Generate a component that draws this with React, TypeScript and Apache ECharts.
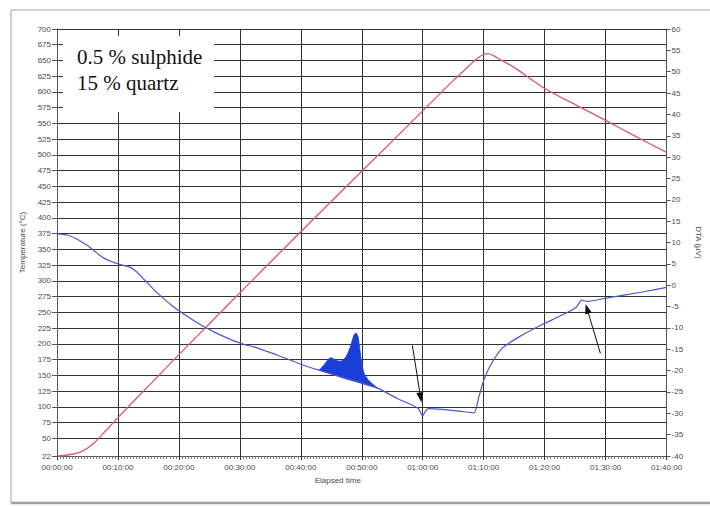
import { useEffect, useRef } from 'react';
import * as echarts from 'echarts';

// Elapsed time is in minutes; labels are shown as hh:mm:ss.
const TIME_MAX = 100;

// Left axis: temperature (°C). Bottom of the scale is the start temperature.
const TEMP_TICKS = [22, 50, 75, 100, 125, 150, 175, 200, 225, 250, 275, 300, 325, 350, 375, 400, 425, 450, 475, 500, 525, 550, 575, 600, 625, 650, 675, 700];

// Furnace temperature [minute, °C]
const TEMPERATURE: [number, number][] = [
  [0, 22], [2, 24], [4, 29], [6, 42], [8, 62], [10, 83], [15, 133], [20, 183], [25, 232], [30, 281],
  [40, 378], [50, 474], [60, 570], [65, 618], [68, 645], [69, 654], [70, 659.5], [70.7, 661], [71.5, 658],
  [73, 650], [75, 639], [79.6, 608], [85, 580], [90, 555], [95, 529], [100, 504],
];

// DTA signal [minute, µV]
const DTA: [number, number][] = [
  [0, 12.0], [1.8, 11.7], [3, 11.0], [4, 10.2], [5, 9.3], [6, 8.2], [7, 7.0], [8, 6.1], [9, 5.5], [9.8, 5.1],
  [11, 4.6], [11.9, 4.3], [13, 3.2], [13.9, 1.9], [15, 0.3], [16, -1.2], [17, -2.5], [18.8, -4.7], [20, -6.0],
  [21.5, -7.4], [23, -8.8], [24.2, -9.8], [26, -11.1], [27.5, -12.1], [29.1, -13.1], [30.8, -13.9], [32.4, -14.5],
  [34, -15.3], [36.2, -16.4], [38, -17.4], [40, -18.5], [43, -19.9], [47, -21.7], [52.6, -24.1], [55.9, -26.6],
  [58.3, -28.1], [59.3, -28.9], [60, -30.6], [60.5, -29.4], [61, -28.9], [63.2, -29.1], [66, -29.5],
  [68.4, -29.9], [69.2, -26.2], [70, -22.3], [71.1, -18.8], [73, -14.8], [75.8, -12.1], [79.6, -9.2],
  [82.3, -7.4], [85.1, -5.3], [86.1, -3.5], [87, -3.8], [90.5, -2.9], [96, -1.6], [100, -0.5],
];

// Exothermic peaks between 43 and 53 min: upper envelope and the baseline beneath it
const DTA_PEAK_TOP: [number, number][] = [
  [43, -19.9], [43.9, -18.5], [44.6, -17.2], [45, -17.0], [45.5, -17.4], [46.5, -17.8], [47.4, -16.8],
  [48.2, -14.1], [48.7, -11.7], [49.05, -11.2], [49.4, -12.1], [49.7, -15.2], [49.97, -18.0], [50.4, -20.7],
  [51.2, -22.4], [52.6, -24.1],
];
const DTA_PEAK_BASE: [number, number][] = [[43, -19.9], [47, -21.7], [52.6, -24.1]];

// Annotation arrows on the DTA trace: [tail, head] in [minute, µV]
const ARROWS: [[number, number], [number, number]][] = [
  [[58.3, -14.1], [59.65, -26.3]],
  [[89.15, -16.0], [86.96, -5.5]],
];

const NOTE_LINES = ['0.5 % sulphide', '15 % quartz'];

const RED = '#dc5577';
const BLUE = '#4a58d2';
const PEAK_FILL = '#1a3fd9';
const GRID = '#333333';
const LABEL = '#4a4a4a';
const FONT = 'Liberation Sans';

const pad = (n: number) => String(n).padStart(2, '0');
const hms = (m: number) => `${pad(Math.floor(m / 60))}:${pad(Math.round(m % 60))}:00`;

export default function App() {
  const ref = useRef<HTMLDivElement>(null);

  useEffect(() => {
    if (!ref.current) return;
    const chart = echarts.init(ref.current, undefined, { renderer: 'svg' });

    chart.setOption({
      animation: false,
      backgroundColor: '#ffffff',
      grid: { left: 57, right: 42, top: 29, bottom: 50 },
      xAxis: {
        type: 'value',
        min: 0,
        max: TIME_MAX,
        interval: 10,
        name: 'Elapsed time',
        nameLocation: 'middle',
        nameGap: 20,
        nameTextStyle: { fontFamily: FONT, fontSize: 8, color: LABEL, padding: [0, 48, 0, 0] },
        axisLine: { onZero: false, lineStyle: { color: '#555', width: 1 } },
        axisTick: { show: true, length: 4, lineStyle: { color: GRID } },
        minorTick: { show: true, splitNumber: 20, length: 3, lineStyle: { color: '#777' } },
        axisLabel: { formatter: (v: number) => hms(v), fontFamily: FONT, fontSize: 8, color: LABEL, margin: 7 },
        splitLine: { show: true, lineStyle: { color: GRID, width: 1 } },
      },
      yAxis: [
        {
          type: 'value',
          min: 22,
          max: 700,
          name: 'Temperature (°C)',
          nameLocation: 'middle',
          nameGap: 22,
          nameTextStyle: { fontFamily: FONT, fontSize: 8, color: LABEL },
          axisLine: { show: true, lineStyle: { color: '#555' } },
          axisTick: { show: true, length: 5, customValues: TEMP_TICKS, lineStyle: { color: '#555' } },
          axisLabel: { customValues: TEMP_TICKS, fontFamily: FONT, fontSize: 8, color: LABEL, margin: 6 },
          splitLine: { show: true, lineStyle: { color: GRID, width: 1 } },
        },
        {
          type: 'value',
          min: -40,
          max: 60,
          interval: 5,
          position: 'right',
          name: 'DTA (µV)',
          nameLocation: 'middle',
          nameRotate: -90,
          nameGap: 22,
          nameTextStyle: { fontFamily: FONT, fontSize: 8, color: LABEL },
          axisLine: { show: true, onZero: false, lineStyle: { color: '#555' } },
          axisTick: { show: true, length: 4, lineStyle: { color: '#555' } },
          axisLabel: { fontFamily: FONT, fontSize: 8, color: LABEL, margin: 5 },
          splitLine: { show: false },
        },
      ],
      series: [
        {
          name: 'Temperature',
          type: 'line',
          yAxisIndex: 0,
          data: TEMPERATURE,
          smooth: 0.3,
          showSymbol: false,
          lineStyle: { color: RED, width: 1.3 },
          z: 4,
        },
        {
          name: 'DTA peaks',
          type: 'custom',
          coordinateSystem: 'cartesian2d',
          yAxisIndex: 1,
          silent: true,
          data: [DTA_PEAK_TOP[0]],
          renderItem: (_params: any, api: any) => {
            const outline = [...DTA_PEAK_TOP, ...DTA_PEAK_BASE.slice().reverse()].map((p) => api.coord(p));
            return {
              type: 'polygon',
              shape: { points: outline, smooth: 0.25 },
              style: { fill: PEAK_FILL, stroke: PEAK_FILL, lineWidth: 0.8 },
            };
          },
          z: 3,
        },
        {
          name: 'DTA',
          type: 'line',
          yAxisIndex: 1,
          data: DTA,
          smooth: 0.2,
          showSymbol: false,
          lineStyle: { color: BLUE, width: 1.2 },
          z: 5,
          markLine: {
            silent: true,
            symbol: ['none', 'triangle'],
            symbolSize: [7, 10],
            label: { show: false },
            lineStyle: { color: '#111', width: 1, type: 'solid' },
            data: ARROWS.map(([tail, head]) => [
              { coord: tail, symbol: 'none' },
              { coord: head, symbol: 'triangle' },
            ]),
          },
        },
      ],
      graphic: [
        {
          type: 'rect',
          shape: { x: 11, y: 10, width: 720, height: 493 },
          style: { fill: 'none', stroke: '#a3a3a3', lineWidth: 1 },
          silent: true,
          z: 1,
        },
        {
          type: 'line',
          shape: { x1: 11, y1: 503, x2: 710, y2: 503 },
          style: { stroke: '#a0a0a0', lineWidth: 2.5 },
          silent: true,
          z: 1,
        },
        {
          type: 'rect',
          shape: { x: 63, y: 36, width: 151, height: 76 },
          style: { fill: '#ffffff' },
          silent: true,
          z: 50,
        },
        ...NOTE_LINES.map((t, i) => ({
          type: 'text',
          x: 77,
          y: 57 + i * 26,
          silent: true,
          z: 51,
          style: {
            text: t,
            fill: '#111',
            font: '21px "Liberation Serif", "Times New Roman", serif',
            verticalAlign: 'middle',
            align: 'left',
          },
        })),
      ],
    });

    return () => chart.dispose();
  }, []);

  return (
    <div
      ref={ref}
      style={{ position: 'fixed', left: 0, top: 0, width: 710, height: 506 }}
    />
  );
}
